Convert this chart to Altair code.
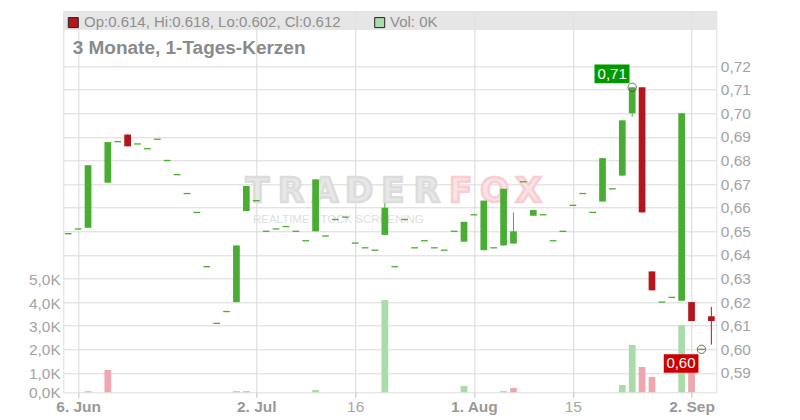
import altair as alt
import pandas as pd
import numpy as np

# ---------------- data ----------------
dates = pd.bdate_range("2025-06-05", periods=66)

open_ = [0.649, 0.651, 0.6515, None, 0.6706, 0.688, 0.691, 0.687, 0.685, 0.689,
         0.680, 0.674, 0.666, 0.658, 0.635, 0.611, 0.616, 0.620, 0.6586, 0.663,
         0.650, 0.651, 0.652, 0.650, 0.646, 0.650, 0.648, 0.655, 0.656, 0.645,
         0.643, 0.642, 0.6485, 0.635, 0.655, 0.643, 0.646, 0.643, 0.642, 0.650,
         0.6456, 0.657, 0.642, 0.643, 0.644, 0.6448, 0.671, 0.6566, 0.657, 0.646,
         0.650, 0.661, 0.666, 0.658, 0.6626, 0.668, 0.6736, 0.700, 0.711, 0.633,
         0.620, 0.622, 0.6206, 0.620, 0.600, 0.614]
close = [0.649, 0.651, 0.678, None, 0.6878, 0.688, 0.686, 0.687, 0.685, 0.689,
         0.680, 0.674, 0.666, 0.658, 0.635, 0.611, 0.616, 0.644, 0.6692, 0.663,
         0.650, 0.651, 0.652, 0.650, 0.646, 0.672, 0.648, 0.655, 0.656, 0.645,
         0.643, 0.642, 0.660, 0.635, 0.655, 0.643, 0.646, 0.643, 0.642, 0.650,
         0.654, 0.657, 0.663, 0.643, 0.668, 0.650, 0.671, 0.659, 0.657, 0.646,
         0.650, 0.661, 0.666, 0.658, 0.681, 0.668, 0.697, 0.711, 0.658, 0.625,
         0.620, 0.622, 0.700, 0.612, 0.600, 0.612]
high = [0.649, 0.651, 0.678, None, 0.6878, 0.688, 0.691, 0.687, 0.685, 0.689,
        0.680, 0.674, 0.666, 0.658, 0.635, 0.611, 0.616, 0.644, 0.6692, 0.663,
        0.650, 0.651, 0.652, 0.650, 0.646, 0.672, 0.648, 0.655, 0.656, 0.645,
        0.643, 0.642, 0.662, 0.635, 0.655, 0.643, 0.646, 0.643, 0.642, 0.650,
        0.654, 0.657, 0.663, 0.643, 0.668, 0.658, 0.671, 0.659, 0.657, 0.646,
        0.650, 0.661, 0.666, 0.658, 0.681, 0.668, 0.697, 0.711, 0.711, 0.633,
        0.620, 0.622, 0.700, 0.620, 0.600, 0.618]
low = [0.649, 0.651, 0.6515, None, 0.6706, 0.688, 0.686, 0.687, 0.685, 0.689,
       0.680, 0.674, 0.666, 0.658, 0.635, 0.611, 0.616, 0.620, 0.6586, 0.663,
       0.650, 0.651, 0.652, 0.650, 0.646, 0.650, 0.648, 0.655, 0.656, 0.645,
       0.643, 0.642, 0.6485, 0.635, 0.655, 0.643, 0.646, 0.643, 0.642, 0.650,
       0.6456, 0.657, 0.642, 0.643, 0.644, 0.6448, 0.671, 0.6566, 0.657, 0.646,
       0.650, 0.661, 0.666, 0.658, 0.6626, 0.668, 0.6736, 0.6985, 0.658, 0.625,
       0.620, 0.622, 0.6206, 0.612, 0.600, 0.602]

# volume (thousands) – only days with turnover
vol_idx = [2, 4, 17, 18, 25, 32, 40, 44, 45, 56, 57, 58, 59, 62, 63]
vol_k = [0.24, 1.14, 0.24, 0.24, 0.29, 4.13, 0.46, 0.24, 0.37, 0.5, 2.21, 1.27, 0.84, 3.06, 1.5]
vol_dir = ["up", "down", "up", "up", "up", "up", "up", "up", "down", "up", "up",
           "down", "down", "up", "down"]

tick_idx = [1, 19, 29, 41, 51, 63]
tick_labels = ["6. Jun", "2. Jul", "16", "1. Aug", "15", "2. Sep"]
price_ticks = [0.59, 0.60, 0.61, 0.62, 0.63, 0.64, 0.65, 0.66, 0.67, 0.68, 0.69, 0.70, 0.71, 0.72]
vol_ticks = [0.19, 1, 2, 3, 4, 5]

title_text = "3 Monate, 1-Tages-Kerzen"

# ---------------- styling ----------------
W, H = 653, 381
GREEN = "#4aad33"
RED = "#b3161b"
VGREEN = "#aadbaa"
VRED = "#eea6af"
GRID = "#d9d9d9"
LAB = "#a3a3a3"
FONT = "Liberation Sans"

df = pd.DataFrame({"idx": range(66), "date": dates.strftime("%Y-%m-%d"),
                   "open": open_, "high": high, "low": low, "close": close}).dropna()
df["dir"] = np.where(df["close"] >= df["open"], "up", "down")

vdf = pd.DataFrame({"idx": vol_idx, "vol": vol_k, "vdir": vol_dir})

last = df.iloc[-1]
header_text = f"Op:{last['open']:.3f}, Hi:{last['high']:.3f}, Lo:{last['low']:.3f}, Cl:{last['close']:.3f}"
last_vol = 0
vol_text = f"Vol: {last_vol}K"

i_hi = int(df.loc[df["high"].idxmax(), "idx"])
i_lo = int(df.loc[df["low"].idxmin(), "idx"])
ann_hi = pd.DataFrame({"idx": [i_hi], "price": [df["high"].max()],
                       "label": [f"{df['high'].max():.2f}".replace(".", ",")]})
ann_lo = pd.DataFrame({"idx": [i_lo], "price": [df["low"].min()],
                       "label": [f"{df['low'].min():.2f}".replace(".", ",")]})

# ---------------- scales / axes ----------------
xscale = alt.Scale(domain=[-0.5, 65.5], nice=False, zero=False)
label_expr = " : ".join(f"datum.value == {i} ? '{l}'" for i, l in zip(tick_idx, tick_labels)) + " : ''"
normal_test = " || ".join(f"datum.value == {i}" for i, l in zip(tick_idx, tick_labels) if l.isdigit())
xaxis = alt.Axis(values=tick_idx, labelExpr=label_expr, grid=True, gridColor=GRID,
                 domain=False, ticks=True, tickSize=5, tickColor="#c0c0c0",
                 labelPadding=2, labelFontSize=15.5, labelFlush=False, title=None,
                 labelFontWeight={"condition": {"test": normal_test, "value": "normal"}, "value": "bold"},
                 labelColor={"condition": {"test": normal_test, "value": "#a6a6a6"}, "value": "#999999"})

pscale = alt.Scale(domain=[0.5818, 0.7432], nice=False, zero=False)
paxis = alt.Axis(orient="right", values=price_ticks, labelExpr="replace(format(datum.value, '.2f'), '.', ',')",
                 grid=True, gridColor=GRID, domain=False, ticks=False, labelPadding=4,
                 labelFontSize=15.5, labelColor=LAB, title=None)

vscale = alt.Scale(domain=[0.188, 16.48], nice=False, zero=False)
vaxis = alt.Axis(orient="left", values=vol_ticks,
                 labelExpr="replace(format(round(datum.value), '.1f'), '.', ',') + 'K'",
                 grid=False, domain=False, ticks=False, labelPadding=3,
                 labelFontSize=15.5, labelColor=LAB, title=None)

col = alt.Color("dir:N", scale=alt.Scale(domain=["up", "down"], range=[GREEN, RED]), legend=None)
vcol = alt.Color("vdir:N", scale=alt.Scale(domain=["up", "down"], range=[VGREEN, VRED]), legend=None)

def X(field):
    return alt.X(field, type="quantitative", scale=xscale, axis=xaxis)

def Yp(field):
    return alt.Y(field, type="quantitative", scale=pscale, axis=paxis)

one = pd.DataFrame({"a": [0]})

# ---------------- layers ----------------
band = alt.Chart(one).mark_rect(fill="#e2e2e2", opacity=0.85).encode(
    x=alt.value(0), x2=alt.value(W), y=alt.value(0), y2=alt.value(18.7))

wm_layers = []
for k, ch in enumerate("TRADERFOX"):
    gray = k < 6
    wm_layers.append(
        alt.Chart(one).mark_text(text=ch, font="DejaVu Sans", fontWeight="bold", fontSize=34,
                                 align="center", baseline="alphabetic",
                                 fill="#e8e8e8" if gray else "#fde4e7",
                                 stroke="#dcdcdc" if gray else "#f9cdd2",
                                 strokeWidth=2.5).encode(
            x=alt.value(194 + 33.9 * k), y=alt.value(191)))
wm_layers.append(
    alt.Chart(one).mark_text(text="REALTIME STOCK SCREENING", fontSize=11.5, align="center",
                             baseline="alphabetic", color="#dedede").encode(
        x=alt.value(275), y=alt.value(211.3)))

vol_layer = alt.Chart(vdf).transform_calculate(
    x0="datum.idx - 0.34", x1="datum.idx + 0.34").mark_rect().encode(
    x=X("x0"), x2=alt.X2("x1"),
    y=alt.Y("vol:Q", scale=vscale, axis=vaxis), y2=alt.value(H),
    color=vcol)

wick = alt.Chart(df).mark_rule(strokeWidth=1).encode(
    x=X("idx"), y=Yp("low"), y2=alt.Y2("high"), color=col)

body = alt.Chart(df).transform_filter("datum.open != datum.close").transform_calculate(
    x0="datum.idx - 0.34", x1="datum.idx + 0.34").mark_rect().encode(
    x=X("x0"), x2=alt.X2("x1"), y=Yp("open"), y2=alt.Y2("close"), color=col)

dash = alt.Chart(df).transform_filter("datum.open == datum.close").transform_calculate(
    x0="datum.idx - 0.34", x1="datum.idx + 0.34").mark_rule(strokeWidth=1.3).encode(
    x=X("x0"), x2=alt.X2("x1"), y=Yp("open"), color=col)

hi_box = alt.Chart(ann_hi).mark_rect(color="#009900", xOffset=-37.7, x2Offset=-2.7,
                                     yOffset=-22.7, y2Offset=-4).encode(
    x=X("idx"), x2=alt.X2("idx"), y=Yp("price"), y2=alt.Y2("price"))
hi_txt = alt.Chart(ann_hi).mark_text(color="white", fontSize=15, dx=-20, dy=-13,
                                     align="center", baseline="middle").encode(
    x=X("idx"), y=Yp("price"), text="label:N")
lo_box = alt.Chart(ann_lo).mark_rect(color="#cc0000", xOffset=-37.7, x2Offset=-3,
                                     yOffset=5, y2Offset=23.3).encode(
    x=X("idx"), x2=alt.X2("idx"), y=Yp("price"), y2=alt.Y2("price"))
lo_txt = alt.Chart(ann_lo).mark_text(color="white", fontSize=15, dx=-20.5, dy=14,
                                     align="center", baseline="middle").encode(
    x=X("idx"), y=Yp("price"), text="label:N")
circles = alt.Chart(pd.concat([ann_hi, ann_lo])).mark_point(
    shape="circle", size=70, filled=False, stroke="#333333", strokeWidth=1).encode(
    x=X("idx"), y=Yp("price"))

price_layer = alt.layer(wick, body, dash, hi_box, lo_box, hi_txt, lo_txt, circles)

hdr_sq = alt.Chart(one).mark_rect(fill=RED, stroke="#222222", strokeWidth=1).encode(
    x=alt.value(5), x2=alt.value(15), y=alt.value(6.3), y2=alt.value(16.3))
hdr_txt = alt.Chart(pd.DataFrame({"t": [header_text]})).mark_text(
    align="left", baseline="alphabetic", fontSize=15, color="#8f8f8f").encode(
    x=alt.value(20.7), y=alt.value(15.3), text="t:N")
vol_sq = alt.Chart(one).mark_rect(fill=VGREEN, stroke="#222222", strokeWidth=1).encode(
    x=alt.value(311.4), x2=alt.value(321.4), y=alt.value(6.3), y2=alt.value(16.3))
vol_txt = alt.Chart(pd.DataFrame({"t": [vol_text]})).mark_text(
    align="left", baseline="alphabetic", fontSize=15, color="#8f8f8f").encode(
    x=alt.value(326.7), y=alt.value(15.3), text="t:N")
title = alt.Chart(pd.DataFrame({"t": [title_text]})).mark_text(
    align="left", baseline="alphabetic", fontSize=19, fontWeight="bold", color="#8a8a8a").encode(
    x=alt.value(9.4), y=alt.value(42.7), text="t:N")

chart = alt.layer(band, *wm_layers, vol_layer, price_layer,
                  hdr_sq, hdr_txt, vol_sq, vol_txt, title).resolve_scale(
    y="independent", color="independent").properties(
    width=W, height=H,
    autosize=alt.AutoSizeParams(type="none"),
    padding={"left": 55.3, "top": 3.3, "right": 70, "bottom": 25},
).configure_view(stroke="#c0c0c0", strokeWidth=1).configure(font=FONT)

chart.save("out.html", embed_options={"renderer": "svg", "actions": False})
